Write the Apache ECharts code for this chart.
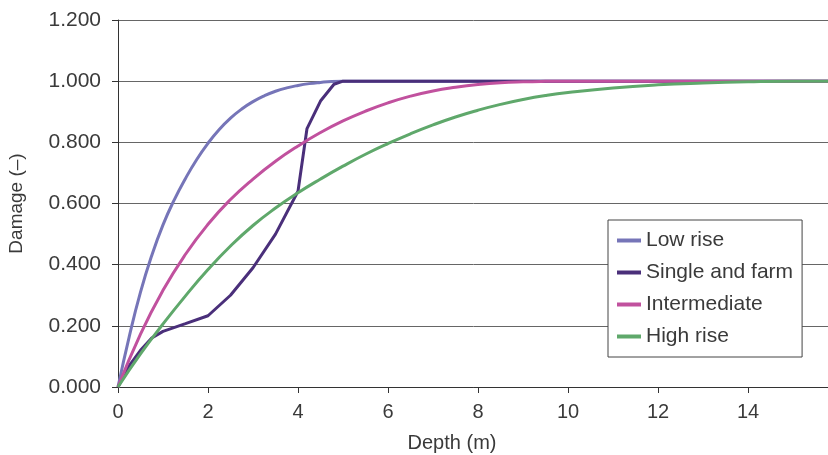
<!DOCTYPE html>
<html><head><meta charset="utf-8">
<script src="https://cdn.jsdelivr.net/npm/echarts@6/dist/echarts.min.js"></script>
<style>html,body{margin:0;padding:0;background:#fff}#c{width:828px;height:455px}</style>
</head><body><div id="c"></div>
<script>
const seriesNames = ['Low rise', 'Single and farm', 'Intermediate', 'High rise'];
const lowRise = [[0,0],[0.25,0.165],[0.5,0.31],[0.75,0.43],[1,0.53],[1.25,0.612],[1.5,0.682],[1.75,0.744],[2,0.797],[2.25,0.842],[2.5,0.879],[2.75,0.909],[3,0.933],[3.25,0.952],[3.5,0.967],[3.75,0.978],[4,0.986],[4.25,0.992],[4.5,0.996],[4.75,0.999],[5,1.0],[6,1.0],[8,1.0],[10,1.0],[12,1.0],[14,1.0],[16,1.0]];
const singleFarm = [[0,0],[0.25,0.07],[0.5,0.12],[0.75,0.16],[1,0.182],[1.5,0.207],[2,0.233],[2.5,0.30],[3,0.39],[3.5,0.50],[4,0.64],[4.2,0.845],[4.5,0.935],[4.8,0.99],[5,1.0],[6,1.0],[8,1.0],[10,1.0],[12,1.0],[14,1.0],[16,1.0]];
const intermediate = [[0,0],[0.5,0.173],[1,0.316],[1.5,0.434],[2,0.532],[2.5,0.613],[3,0.68],[3.5,0.738],[4,0.788],[4.5,0.832],[5,0.87],[5.5,0.902],[6,0.929],[6.5,0.951],[7,0.968],[7.5,0.98],[8,0.989],[8.5,0.995],[9,0.998],[9.5,0.9995],[10,1.0],[12,1.0],[14,1.0],[16,1.0]];
const highRise = [[0,0],[0.5,0.108],[1,0.206],[1.5,0.298],[2,0.384],[2.5,0.461],[3,0.528],[3.5,0.585],[4,0.635],[4.5,0.68],[5,0.722],[5.5,0.761],[6,0.796],[6.5,0.828],[7,0.857],[7.5,0.883],[8,0.905],[8.5,0.924],[9,0.94],[9.5,0.953],[10,0.963],[11,0.978],[12,0.988],[13,0.994],[14,0.998],[15,1.0],[16,1.0]];
const colors = ['#7675b8', '#4a2f7a', '#c1519e', '#5fa86b'];
const FONT = 'Liberation Sans, Arial, sans-serif';
const chart = echarts.init(document.getElementById('c'));
const data = [lowRise, singleFarm, intermediate, highRise];
chart.setOption({
  animation: false,
  backgroundColor: '#fff',
  grid: { left: 118, top: 20, height: 367, width: 720, containLabel: false, outerBoundsMode: 'none' },
  xAxis: {
    type: 'value', min: 0, max: 16, interval: 2,
    name: 'Depth (m)', nameLocation: 'middle', nameGap: 46,
    nameTextStyle: { fontFamily: FONT, fontSize: 20, color: '#3a3a3a', padding: [0, 52, 0, 0] },
    axisLine: { show: true, onZero: false, lineStyle: { color: '#333', width: 1 } },
    axisTick: { show: true, length: 6, inside: false, lineStyle: { color: '#333' } },
    axisLabel: { fontFamily: FONT, fontSize: 20, color: '#3a3a3a', margin: 15 },
    splitLine: { show: false }
  },
  yAxis: {
    type: 'value', min: 0, max: 1.2, interval: 0.2,
    name: 'Damage (–)', nameLocation: 'middle', nameGap: 92,
    nameTextStyle: { fontFamily: FONT, fontSize: 19, color: '#3a3a3a' },
    axisLine: { show: true, lineStyle: { color: '#333', width: 1 } },
    axisTick: { show: true, length: 6, inside: false, lineStyle: { color: '#333' } },
    axisLabel: { fontFamily: FONT, fontSize: 21, color: '#3a3a3a', margin: 17, formatter: v => v.toFixed(3) },
    splitLine: { show: true, lineStyle: { color: '#666', width: 1 } }
  },
  legend: {
    orient: 'vertical', left: 608, top: 220,
    data: seriesNames,
    icon: 'rect', itemWidth: 24, itemHeight: 4, itemGap: 11,
    padding: [10, 9, 10, 9],
    borderColor: '#444', borderWidth: 1, backgroundColor: '#fff',
    textStyle: { fontFamily: FONT, fontSize: 21, color: '#3a3a3a' }
  },
  series: seriesNames.map((n, i) => ({
    name: n, type: 'line', data: data[i],
    smooth: i === 1 ? false : 0.5, symbol: 'none',
    lineStyle: { color: colors[i], width: 3 },
    itemStyle: { color: colors[i] }
  }))
});
</script></body></html>
